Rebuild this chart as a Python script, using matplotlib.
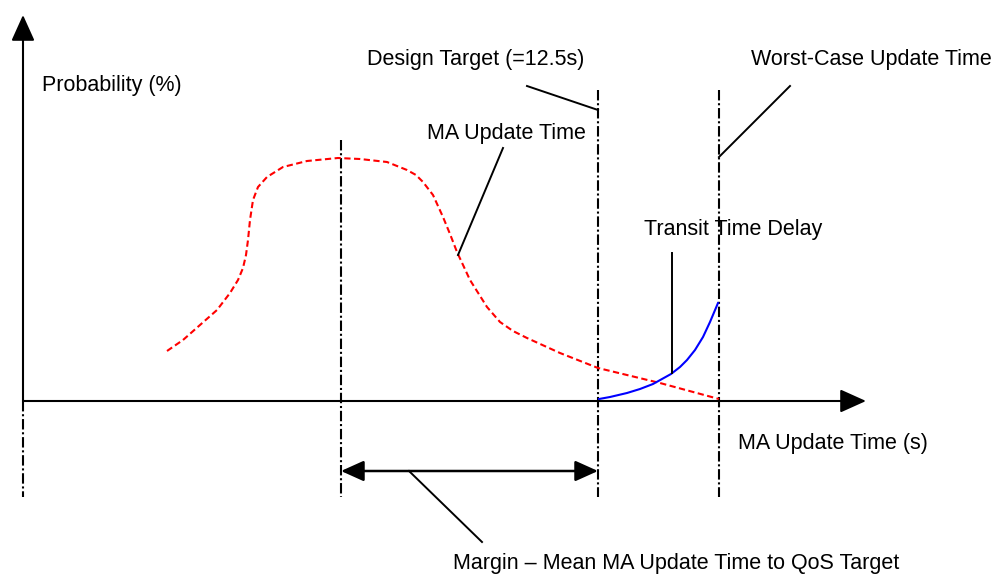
import matplotlib.pyplot as plt
import numpy as np

plt.rcParams['font.family'] = ['Liberation Sans', 'DejaVu Sans']
plt.rcParams['lines.scale_dashes'] = False

# schematic drawn in pixel units (x right, y down)
red_x = [167, 183, 200, 217, 230, 238, 243, 246, 248, 250, 253, 258, 267, 283, 307, 338,
         360, 387, 407, 416, 423, 433, 443, 450, 457, 470, 487, 500, 513, 527, 560, 598, 660, 719]
red_y = [351, 340, 325, 310, 293, 280, 268, 255, 240, 220, 200, 187, 177, 167, 161, 158,
         159, 162, 170, 175, 182, 195, 217, 234, 252, 280, 307, 322, 331, 338, 353, 368, 383, 399]

blue_x = [599, 610, 627, 640, 653, 662, 671, 680, 687, 695, 703, 710, 718]
blue_y = [399, 397, 393, 389, 384, 379, 374, 367, 360, 350, 337, 322, 303]

# vertical markers: x, top
markers_x = [341, 598, 719]
markers_top = [140, 90, 90]
axis_y0 = 401
guide_bottom = 497

labels = {
    'Probability (%)': (42, 85, 'left'),
    'Design Target (=12.5s)': (476, 60, 'center'),
    'Worst-Case Update Time': (871, 60, 'center'),
    'MA Update Time': (506, 133, 'center'),
    'Transit Time Delay': (733, 229, 'center'),
    'MA Update Time (s)': (738, 444, 'left'),
    'Margin \u2013 Mean MA Update Time to QoS Target': (676, 563, 'center'),
}

leaders = [((458, 255), (503, 148)),
           ((527, 86), (598, 110)),
           ((719, 157), (790, 86)),
           ((672, 373), (672, 253)),
           ((409, 471), (482, 542))]

fig = plt.figure(figsize=(9.94, 5.75), dpi=100)
ax = fig.add_axes([0, 0, 1, 1])
ax.set_xlim(0, 994)
ax.set_ylim(575, 0)
ax.axis('off')

dashdot = (0, (7.5, 2, 1.5, 2))

# axes
ax.annotate('', xy=(23, 15), xytext=(23, axis_y0),
            arrowprops=dict(arrowstyle='-|>,head_length=1.0,head_width=0.45',
                            mutation_scale=16, color='black', lw=1.5,
                            shrinkA=0, shrinkB=0))
ax.annotate('', xy=(866, axis_y0), xytext=(23, axis_y0),
            arrowprops=dict(arrowstyle='-|>,head_length=1.0,head_width=0.45',
                            mutation_scale=16, color='black', lw=1.5,
                            shrinkA=0, shrinkB=0))
ax.plot([23, 23], [axis_y0, guide_bottom], color='black', lw=1.5, linestyle=dashdot)

for mx, mt in zip(markers_x, markers_top):
    ax.plot([mx, mx], [mt, guide_bottom], color='black', lw=1.5, linestyle=dashdot)

# curves
ax.plot(red_x, red_y, color='red', lw=1.5, linestyle=(0, (4.5, 2.5)),
        solid_joinstyle='round', dash_joinstyle='round')
ax.plot(blue_x, blue_y, color='blue', lw=1.5, solid_joinstyle='round')

# margin double arrow
ax.annotate('', xy=(341, 471), xytext=(598, 471),
            arrowprops=dict(arrowstyle='<|-|>,head_length=1.0,head_width=0.45',
                            mutation_scale=14, color='black', lw=1.8,
                            shrinkA=0, shrinkB=0))

for (x0, y0), (x1, y1) in leaders:
    ax.plot([x0, x1], [y0, y1], color='black', lw=1.4)

for text, (x, y, ha) in labels.items():
    ax.text(x, y, text, ha=ha, va='center', fontsize=15.5, color='black')

fig.savefig('out.png', dpi=100)
plt.close(fig)
